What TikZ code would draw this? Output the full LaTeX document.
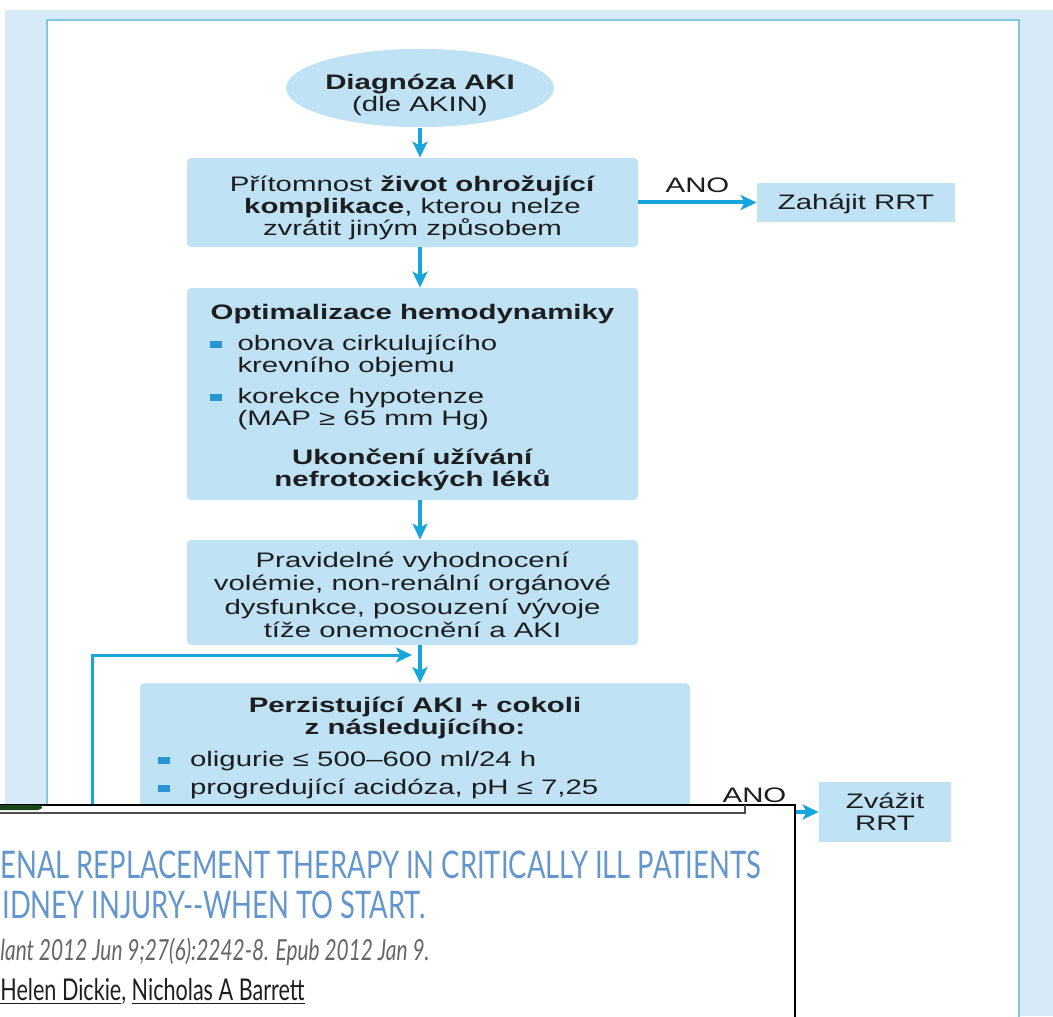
\documentclass[tikz,border=0pt]{standalone}
\usepackage{fontspec}
\usetikzlibrary{shapes.geometric,arrows.meta}

\newfontfamily\flowfont[FakeStretch=1.4]{Liberation Sans}
\newfontfamily\citefont[FakeStretch=0.72]{Lato}
\newcommand\flowtext{\flowfont\fontsize{10.5pt}{11pt}\selectfont}

\definecolor{pageblue}{RGB}{214,234,247}
\definecolor{frameblue}{RGB}{130,200,222}
\definecolor{boxblue}{RGB}{192,226,245}
\definecolor{arrowblue}{RGB}{22,166,220}
\definecolor{bulletblue}{RGB}{40,150,210}
\definecolor{inkgray}{RGB}{30,30,30}
\definecolor{titleblue}{RGB}{98,150,205}
\definecolor{uigreen}{RGB}{25,70,25}

\newcommand\sqbul{{\color{bulletblue}\rule[1.5pt]{6pt}{3.5pt}}}

\begin{document}
\begin{tikzpicture}[x=0.5pt,y=-0.5pt,
  >={Stealth[length=8pt,width=7.5pt,inset=2pt]},
  stepbox/.style={fill=boxblue,rounded corners=2pt,inner sep=0pt,align=center,
                  text=inkgray,font=\flowtext},
  flow/.style={->,draw=arrowblue,line width=2pt},
  cite/.style={anchor=base west,inner sep=0pt}]
\useasboundingbox (0,0) rectangle (1053,1016);
\clip (0,0) rectangle (1053,1016);

\fill [white] (0,0) rectangle (1053,1016);
\fill [pageblue] (5,10) rectangle (1053,1016);
\filldraw [fill=white,draw=frameblue,line width=1pt] (47,20) rectangle (1019,1040);

\node [ellipse,fill=boxblue,minimum width=132pt,minimum height=33pt,inner sep=0pt,
       align=center,text=inkgray,font=\flowtext] (diag) at (420,88)
    {\rule{0pt}{14.5pt}\bfseries Diagnóza AKI\\(dle AKIN)};
\node [stepbox,minimum width=225.5pt,minimum height=44.5pt] (hazard) at (412.5,202.5)
    {\rule{0pt}{12.7pt}Přítomnost \textbf{život ohrožující}\\\textbf{komplikace}, kterou nelze\\zvrátit jiným způsobem};
\node [stepbox,rounded corners=0pt,minimum width=99pt,minimum height=19.5pt] (startrrt) at (856,202.5)
    {\rule{0pt}{9pt}Zahájit RRT};
\node [stepbox,minimum width=225.5pt,minimum height=106pt] (optim) at (412.5,394)
    {\rule{0pt}{11.5pt}\textbf{Optimalizace hemodynamiky}\\[4.5pt]
     \makebox[205pt][l]{\hspace{1pt}\sqbul\hspace{8pt}obnova cirkulujícího}\\
     \makebox[205pt][l]{\hspace{15pt}krevního objemu}\\[4.5pt]
     \makebox[205pt][l]{\hspace{1pt}\sqbul\hspace{8pt}korekce hypotenze}\\
     \makebox[205pt][l]{\hspace{15pt}(MAP ≥ 65 mm Hg)}\\[8.5pt]
     \textbf{Ukončení užívání}\\\textbf{nefrotoxických léků}};
\node [stepbox,minimum width=225.5pt,minimum height=52.5pt,
       font={\flowfont\fontsize{10.5pt}{11.8pt}\selectfont}] (review) at (412.5,592.5)
    {\rule{0pt}{10pt}Pravidelné vyhodnocení\\volémie, non-renální orgánové\\dysfunkce, posouzení vývoje\\tíže onemocnění a AKI};
\node [stepbox,anchor=north,minimum width=275pt,inner ysep=7pt] (persist) at (415,683)
    {\textbf{Perzistující AKI + cokoli}\\
     \textbf{z následujícího:}\\[5pt]
     \makebox[260pt][l]{\hspace{1.5pt}\sqbul\hspace{10pt}oligurie ≤ 500–600 ml/24 h}\\[3pt]
     \makebox[260pt][l]{\hspace{1.5pt}\sqbul\hspace{10pt}progredující acidóza, pH ≤ 7,25}\\
     \rule{0pt}{40pt}};
\node [stepbox,rounded corners=0pt,minimum width=66pt,minimum height=30pt] (considerrrt) at (885,812)
    {Zvážit\\RRT};

\coordinate (loopfoot) at (92,1000);
\coordinate (loopin) at (412,655);

\draw [flow] (diag.south) -- (diag.south |- hazard.north);
\draw [flow] (hazard.south -| diag.south) -- (diag.south |- optim.north);
\draw [flow] (optim.south -| diag.south) -- (diag.south |- review.north);
\draw [flow] (review.south -| diag.south) -- (diag.south |- persist.north);
\draw [flow,line width=1.5pt] (loopfoot) |- (loopin);
\draw [flow] (hazard) --
    node[above=0.5pt,text=inkgray,font=\flowtext] (yes1) {ANO}
    (startrrt);
\draw [flow] (persist.east |- considerrrt) --
    node[above=0.5pt,text=inkgray,font=\flowtext] (yes2) {ANO}
    (considerrrt);

\fill [white] (0,805) rectangle (795,1040);
\draw [line width=1.2pt] (0,805) -- (795,805) -- (795,1040);
\draw [gray!60!black,line width=1pt] (0,813) -- (745,813) -- (745,805);
\fill [uigreen,rounded corners=2pt] (-6,805) rectangle (42,810);

\node [cite,text=titleblue,font=\citefont\fontsize{19pt}{22pt}\selectfont] (title1) at (0,878)
    {ENAL REPLACEMENT THERAPY IN CRITICALLY ILL PATIENTS};
\node [cite,text=titleblue,font=\citefont\fontsize{19pt}{22pt}\selectfont] (title2) at (2,918)
    {IDNEY INJURY{-}{-}WHEN TO START.};
\node [cite,text=gray!80!black,font=\citefont\itshape\fontsize{14.5pt}{16pt}\selectfont] (source) at (0,960)
    {lant 2012 Jun 9;27(6):2242-8. Epub 2012 Jan 9.};
\node [cite,text=inkgray,font=\citefont\fontsize{15pt}{17pt}\selectfont] (authors) at (0,1000)
    {\underline{Helen Dickie}, \underline{Nicholas A Barrett}};
\end{tikzpicture}
\end{document}
